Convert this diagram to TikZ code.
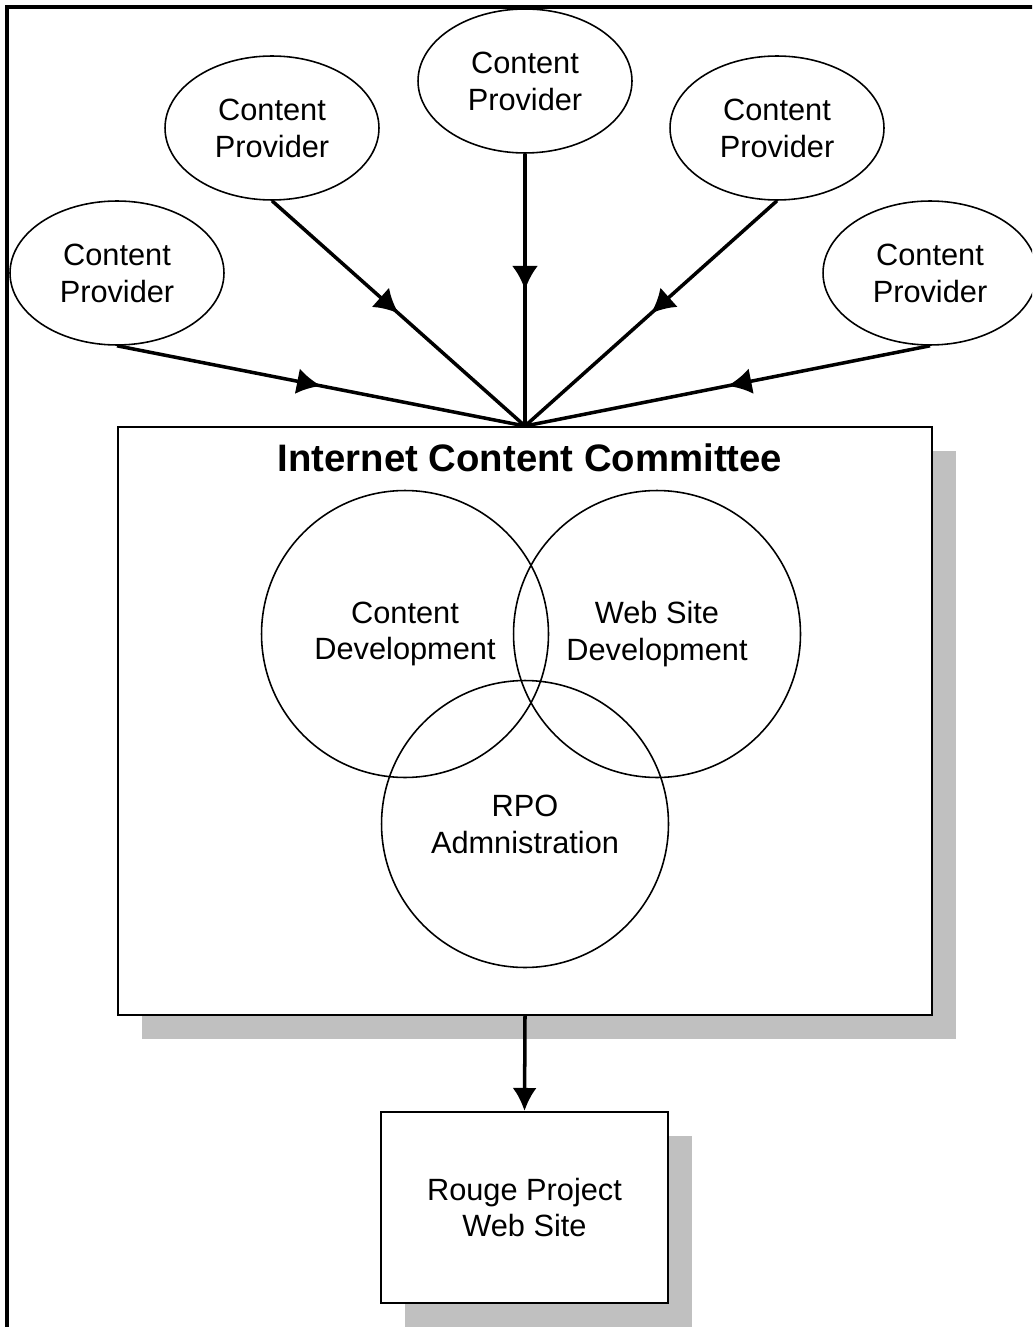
\documentclass[tikz,border=0pt]{standalone}
\usepackage{fontspec}
\setmainfont{Liberation Sans}
\usetikzlibrary{arrows.meta, decorations.markings, shapes.geometric, shadows}
\definecolor{shadowgray}{RGB}{192,192,192}

\begin{document}
\begin{tikzpicture}[x=0.02cm, y=-0.02cm,
    every node/.style={font=\fontsize{17.5}{21}\selectfont, align=center},
    provider/.style={draw, ellipse, line width=0.9pt, minimum width=4.28cm, minimum height=2.88cm, inner sep=0pt},
    group/.style={draw, circle, line width=0.9pt, minimum size=5.74cm, inner sep=0pt},
    panel/.style={draw, fill=white, line width=1.2pt, inner sep=0pt,
        drop shadow={shadow xshift=0.48cm, shadow yshift=-0.48cm, opacity=1, fill=shadowgray}},
    feed/.style={line width=2pt, postaction={decorate},
        decoration={markings, mark=at position 0.5 with {\arrow{Latex[length=0.48cm,width=0.52cm]}}}}]
    \useasboundingbox (0,0) rectangle (1032,1327);
    \clip (0,0) rectangle (1032,1327);
    \draw[line width=2pt] (7,1340) |- (1040,7); % page frame

    \foreach \px/\py [count=\i] in {117/273, 272/128, 525/81, 777/128, 930/273}
    {\node[provider] (cp\i) at (\px,\py) {Content\\Provider}; }

    \node[panel, minimum width=16.28cm, minimum height=11.76cm] (icc) at (525,721) {};
    \node[font=\fontsize{21.8}{26}\selectfont\bfseries] (title) at (530,458) {Internet Content Committee};

    \node[group] (cd) at (405,634) {Content\\Development}; %left
    \node[group] (wsd) at (657,634) {Web Site\\Development}; %right
    \node[group] (rpo) at (525,824) {RPO\\Admnistration}; %bottom

    \node[panel, minimum width=5.74cm, minimum height=3.82cm] (web) at (524.5,1207.5) {Rouge Project\\Web Site};

    \foreach \i in {1,...,5}
    {\draw[feed] (cp\i.south) -- (icc.north); }
    \draw[line width=2pt, -{Latex[length=0.46cm,width=0.48cm]}] (icc.south) -- (web.north);
\end{tikzpicture}
\end{document}
